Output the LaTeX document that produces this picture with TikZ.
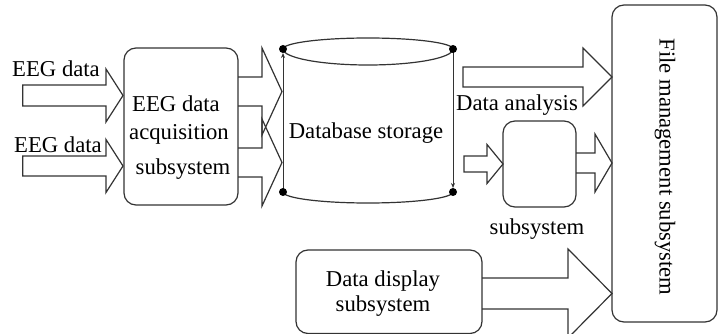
\documentclass[tikz,border=0pt]{standalone}
\usepackage{fontspec}
\setmainfont{Liberation Serif}
\usetikzlibrary{arrows.meta}
\tikzset{
  ln/.style={draw=black!80, line width=1.2pt, line join=miter},
  box/.style={ln, rounded corners=12pt, inner sep=0pt},
  lbl/.style={inner sep=0pt, font=\fontsize{22.7}{30}\selectfont, text=black},
  dotc/.style={fill=black},
}
% #1 start x, #2 head base x, #3 tip x, #4 centre y, #5 body half, #6 head half
\newcommand{\blkarrowclosed}[6]{%
  \draw[ln] (#1,#4-#5) -- (#2,#4-#5) -- (#2,#4-#6) -- (#3,#4) -- (#2,#4+#6) -- (#2,#4+#5) -- (#1,#4+#5) -- cycle;}
\newcommand{\blkarrowopen}[6]{%
  \draw[ln] (#1,#4-#5) -- (#2,#4-#5) -- (#2,#4-#6) -- (#3,#4) -- (#2,#4+#6) -- (#2,#4+#5) -- (#1,#4+#5);}
\begin{document}
\begin{tikzpicture}[x=1pt,y=-1pt]
\useasboundingbox[fill=white] (0,0) rectangle (718,334);

% boxes
\node[box, minimum width=114pt, minimum height=157pt] (acq) at (181,126.5) {};
\node[box, minimum width=105pt, minimum height=317pt] (fm) at (664.5,163.5) {};
\node[box, minimum width=73pt, minimum height=86pt] (ana) at (539.5,164) {};
\node[box, minimum width=186pt, minimum height=83.5pt] (disp) at (389,291.75) {};

% database cylinder
\coordinate (tl) at (283,49);
\coordinate (tr) at (453,49);
\coordinate (bl) at (283,192);
\coordinate (br) at (453,192);
\draw[ln] (tl) arc[start angle=180,end angle=0,x radius=85pt,y radius=11pt];
\draw[ln] (tl) arc[start angle=180,end angle=360,x radius=85pt,y radius=16pt];
\draw[ln] (bl) arc[start angle=180,end angle=360,x radius=85pt,y radius=11pt];
\draw[ln,line width=1pt,-{Stealth[length=5pt,width=4pt]}] (bl) -- (283,53);
\draw[ln,line width=1pt,-{Stealth[length=5pt,width=4pt]}] (tr) -- (453,188);
\foreach \p in {tl,tr,bl,br} \fill[dotc] (\p) circle[radius=4pt];
\node[lbl] (db) at (366,133) {Database storage};

% block arrows
\blkarrowclosed{22.7}{106}{123}{95.5}{10.5}{26.5}
\blkarrowclosed{22.7}{106}{123}{166}{10}{26.5}
\blkarrowopen{238}{262}{282}{91.5}{14.5}{43.5}
\blkarrowopen{238}{262}{282}{162.5}{14.5}{43.5}
\blkarrowclosed{463}{583}{612}{77}{10}{29}
\blkarrowclosed{464}{487}{503}{164}{8}{19.5}
\blkarrowopen{576}{595}{612}{163}{10}{29}
\blkarrowopen{482}{568}{612}{293.5}{15.5}{44.5}

% labels
\node[lbl] (in1) at (56,69) {EEG data};
\node[lbl] (in2) at (58,145) {EEG data};
\node[lbl] (acq1) at (176,104) {EEG data};
\node[lbl] (acq2) at (179,134) {acquisition};
\node[lbl] (acq3) at (183,169) {subsystem};
\node[lbl] (ana1) at (517,105) {Data analysis};
\node[lbl] (ana2) at (537,229) {subsystem};
\node[lbl] (disp1) at (383,281) {Data display};
\node[lbl] (disp2) at (383,306) {subsystem};
\node[lbl, rotate=-90] (fmt) at (665,167) {File management subsystem};
\end{tikzpicture}
\end{document}
